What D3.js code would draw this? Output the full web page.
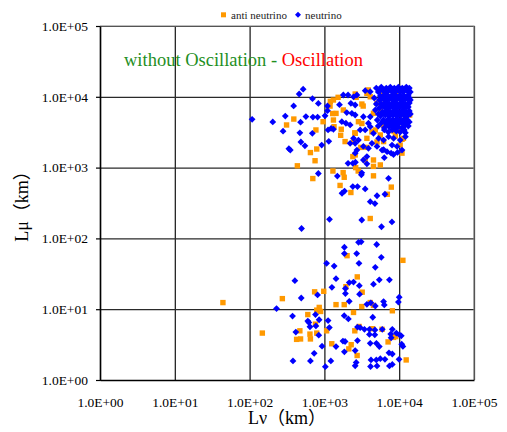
<!DOCTYPE html>
<html>
<head>
<meta charset="utf-8">
<script src="https://cdn.jsdelivr.net/npm/d3@7"></script>
<style>
  body { margin: 0; background: #fff; }
  text { font-family: "Liberation Serif", "Noto Sans CJK JP", serif; }
</style>
</head>
<body>
<svg id="chart"></svg>
<script>
// decade ticks on both axes
const tickValues = [1, 10, 100, 1000, 10000, 100000];
const tickLabels = ["1.0E+00", "1.0E+01", "1.0E+02", "1.0E+03", "1.0E+04", "1.0E+05"];

// [Lv km, Lmu km]
const antiNeutrino = [
  [390, 4850], [312, 4000], [770, 3400], [960, 4450], [790, 1830], [650, 1630], [750, 1250], [435, 1060],
  [700, 700], [1300, 895], [1780, 850], [1840, 730], [1620, 560], [2260, 445], [2620, 1000], [2830, 895],
  [4530, 765], [4530, 1040], [5590, 1090], [7840, 530], [6940, 420], [4100, 191], [1650, 2860], [1680, 3480],
  [1320, 4700], [1290, 5800], [1430, 5830], [1190, 7400], [1525, 9830], [2660, 9830], [3850, 12500], [2550, 3100],
  [2450, 2300], [5050, 2300], [10900, 2510], [10300, 2080], [8880, 2800], [8420, 3290], [1790, 6510], [1320, 9010],
  [2580, 10950], [3170, 7900], [3300, 7400], [2850, 4450], [3170, 4200], [2580, 3050], [1890, 2330], [3700, 2590],
  [6180, 2330], [5590, 2890], [4320, 3200], [4790, 3400], [6180, 4000], [7210, 4230], [4530, 5850], [5590, 6510],
  [6180, 5850], [5050, 8100], [6520, 9010], [8020, 9520], [10900, 5850], [12100, 4970], [9360, 4000], [10900, 3400],
  [11400, 2590], [10900, 1600], [13800, 5530], [3510, 1280], [4530, 1280], [2580, 1510], [4100, 10000], [3700, 11200],
  [8880, 11200], [6180, 11200], [7210, 12500], [3690, 1930], [3070, 1930], [2400, 1430], [1200, 8630], [1345, 3780],
  [2010, 57], [11200, 49], [2750, 28.6], [1940, 20.8], [3200, 17.4], [980, 17.9], [740, 17.6], [274, 14.1],
  [1430, 11.6], [1840, 11.6], [3160, 10.9], [4100, 12.4], [4530, 11.3], [2450, 9.0], [8100, 9.5], [853, 10.6],
  [790, 9.7], [890, 9.3], [600, 8.4], [148, 4.6], [470, 4.95], [641, 4.45], [790, 4.6], [760, 6.15],
  [425, 3.75], [480, 3.8], [650, 3.8], [1070, 4.95], [1255, 3.25], [2120, 2.75], [2280, 3.15], [2740, 2.22],
  [2550, 4.95], [2910, 5.7], [4400, 5.3], [5900, 5.2], [7100, 3.45], [8400, 4.0], [9000, 4.1], [12400, 1.92],
  [44, 12.4]
];

const neutrino = [
  // scattered, upper group
  [520, 12800], [460, 10950], [693, 9400], [830, 8050], [108, 4800], [204, 4420], [300, 5350], [388, 7440],
  [566, 5260], [703, 5180], [811, 5180], [480, 4380], [280, 3270], [470, 3100], [690, 3050], [485, 2300],
  [549, 2030], [335, 1850], [350, 1770], [920, 2080], [1145, 2350], [830, 825], [495, 138], [1170, 186],
  [1490, 760], [1720, 434], [1860, 466], [2400, 540], [2770, 540], [3510, 500], [4100, 330], [4740, 310],
  [5050, 400], [6450, 420], [7200, 705], [3160, 182], [5800, 146], [8000, 171], [3160, 845], [3120, 790],
  [2070, 1150], [2400, 1150], [2600, 1190], [3700, 1130], [6180, 1800], [6320, 1380], [7800, 1600], [8400, 1530],
  [9500, 1640], [12100, 3100], [1590, 7740], [1790, 10600], [2070, 10600], [2450, 10000], [2720, 10600], [3510, 12200],
  [4100, 11800], [2260, 8100], [2580, 7660], [1990, 5990], [2330, 5850], [2580, 5530], [1710, 4450], [1940, 4230],
  [2210, 4000], [3320, 5230], [4100, 5230], [3880, 4230], [3010, 3400], [3510, 3400], [4100, 3780], [4530, 3050],
  [2450, 2590], [2850, 2450], [2580, 2200], [2210, 2200], [2720, 1770], [2580, 1600], [3320, 1990], [3880, 1870],
  [4320, 2200], [5050, 1990], [5900, 1770], [6880, 1680], [8020, 2080], [9360, 1990], [10900, 1770], [5300, 2590],
  [6180, 2450], [7210, 2730], [8420, 2590], [10300, 2450], [12100, 2730], [3320, 1280], [3700, 1430], [1020, 5400],
  [1100, 6360], [1100, 7420], [1120, 3400], [1230, 3580], [1320, 3480],
  // dense cluster near 1E+04 / 1E+04
  [4940, 13300], [5760, 13700], [6720, 13300], [7610, 13700], [8610, 13300], [9740, 13700], [11000, 13300], [12450, 13700], [13660, 13300],
  [5590, 12500], [6320, 12500], [7150, 12500], [8090, 12500], [9160, 12500], [10300, 12500], [11700, 12500], [13240, 12500],
  [5250, 11700], [6130, 12100], [6930, 11700], [7850, 12100], [8880, 11700], [10050, 12100], [11340, 11700], [12840, 12100], [14100, 11700],
  [5590, 10300], [6320, 10600], [7150, 10300], [8090, 10600], [9160, 10300], [10300, 10600], [11700, 10300], [13240, 10600],
  [4640, 9620], [5760, 9620], [6520, 9620], [7380, 9620], [8350, 9620], [9440, 9620], [10660, 9620], [12070, 9620], [13660, 9620],
  [5420, 9010], [6130, 9310], [6930, 9010], [7850, 9310], [8880, 9010], [10050, 9310], [11340, 9010], [12840, 9310], [14100, 9010],
  [4940, 7910], [5760, 7910], [6520, 8170], [7380, 7910], [8350, 8170], [9440, 7910], [10660, 8170], [12070, 7910], [13660, 8170],
  [6130, 7420], [6930, 7420], [7850, 7420], [8880, 7420], [10050, 7420], [11340, 7420], [12840, 7420],
  [5420, 6950], [6320, 7180], [7150, 6950], [8090, 7180], [9160, 6950], [10300, 7180], [11700, 6950], [13240, 7180],
  [4790, 6510], [5940, 6100], [6720, 6300], [7610, 6100], [8610, 6300], [9740, 6100], [11000, 6300], [12450, 6100], [13660, 6300],
  [5250, 5720], [6320, 5720], [7150, 5720], [8090, 5720], [9160, 5720], [10300, 5720], [11700, 5720], [14100, 5720],
  [5590, 5360], [6520, 5530], [7380, 5360], [8350, 5530], [9440, 5360], [10660, 5530], [12070, 5360], [13240, 5530],
  [5090, 4700], [6130, 4700], [7150, 4850], [8090, 4700], [9160, 4850], [10300, 4700], [11700, 4850], [12840, 4700],
  [6520, 4410], [7380, 4410], [8350, 4410], [9440, 4410], [10660, 4410], [12070, 4410], [13660, 4410],
  [5760, 4270], [6720, 4130], [7850, 4270], [8880, 4130], [10050, 4270], [11340, 4130], [12450, 4270],
  [5250, 3870], [8090, 3870], [9160, 3870], [11700, 3870], [13240, 3870],
  [6320, 3630], [7380, 3750], [8610, 3630], [9740, 3750], [11000, 3630],
  [6320, 3400], [8090, 3400], [11700, 3400],
  [7150, 3180], [9160, 3290], [10300, 3180],
  // lower group
  [1850, 75], [2860, 88], [3100, 89.5], [5000, 82], [1850, 61], [2700, 61], [5760, 54], [2900, 44.5],
  [1070, 44.5], [1350, 40.6], [4790, 39], [403, 25.3], [1430, 27], [2150, 23.8], [2450, 24.2], [2930, 21.5],
  [4530, 22.6], [5420, 26], [7400, 26], [1260, 20.4], [1910, 19.6], [1910, 16.6], [2950, 16.3], [810, 15.9],
  [490, 14.4], [2150, 12.9], [3700, 11.7], [4180, 12.3], [4790, 11.1], [6180, 12.8], [6320, 11.5], [10000, 14.8],
  [9750, 12.6], [229, 10.2], [375, 8.0], [600, 6.8], [620, 6.5], [850, 7.1], [770, 5.8], [641, 5.65],
  [415, 4.75], [1120, 6.9], [1165, 5.5], [840, 4.3], [1840, 8.1], [2090, 7.3], [4430, 7.7], [2770, 5.6],
  [3010, 5.5], [3430, 5.2], [4000, 5.2], [4740, 5.1], [5940, 5.2], [8090, 5.2], [9160, 4.6], [10100, 4.35],
  [10660, 4.2], [7700, 4.45], [7800, 3.95], [4000, 4.4], [4720, 4.35], [2770, 3.6], [1770, 3.55], [1890, 3.5],
  [4100, 3.3], [4960, 3.3], [5420, 2.97], [10800, 3.2], [11200, 2.98], [930, 3.0], [1430, 2.97], [1850, 2.5],
  [2580, 2.6], [730, 2.38], [7300, 2.42], [8090, 2.33], [380, 1.86], [650, 1.86], [1220, 1.86], [4200, 1.92],
  [4940, 1.92], [5590, 2.0], [6450, 1.96], [2660, 1.77], [2580, 1.59], [4140, 1.55], [5050, 1.58], [7400, 1.58],
  [8090, 1.66], [9950, 1.96], [1030, 1.54], [760, 8.4]
];

const width = 507;
const height = 432;
const plot = { left: 100, right: 474, top: 26, bottom: 380 };

const svg = d3.select("#chart")
    .attr("width", width)
    .attr("height", height);

const x = d3.scaleLog().domain([1, 1e5]).range([plot.left, plot.right]);
const y = d3.scaleLog().domain([1, 1e5]).range([plot.bottom, plot.top]);

// grid lines
const gridX = svg.append("g")
    .attr("transform", `translate(0,${plot.bottom})`)
    .call(d3.axisBottom(x).tickValues(tickValues).tickSize(-(plot.bottom - plot.top)).tickFormat(""));
gridX.select(".domain").remove();
gridX.selectAll("line").attr("stroke", "#111").attr("stroke-width", 1.2);

const gridY = svg.append("g")
    .attr("transform", `translate(${plot.left},0)`)
    .call(d3.axisLeft(y).tickValues(tickValues).tickSize(-(plot.right - plot.left)).tickFormat(""));
gridY.select(".domain").remove();
gridY.selectAll("line").attr("stroke", "#2a2a2a").attr("stroke-width", 1.2);

// top / right frame is gray
svg.append("path")
    .attr("d", `M${plot.left},${plot.top}H${plot.right}V${plot.bottom}`)
    .attr("fill", "none")
    .attr("stroke", "#808080")
    .attr("stroke-width", 1.2);

// axes with labels
const xAxis = svg.append("g")
    .attr("transform", `translate(0,${plot.bottom})`)
    .call(d3.axisBottom(x).tickValues(tickValues).tickSize(0).tickPadding(17)
        .tickFormat((d, i) => tickLabels[i]));
xAxis.select(".domain").attr("stroke", "#000").attr("stroke-width", 1.5);
xAxis.selectAll("text").attr("font-size", "13.5px").attr("fill", "#000")
    .style("font-family", "'Liberation Serif', serif");

const yAxis = svg.append("g")
    .attr("transform", `translate(${plot.left},0)`)
    .call(d3.axisLeft(y).tickValues(tickValues).tickSize(4).tickSizeOuter(0).tickPadding(8)
        .tickFormat((d, i) => tickLabels[i]));
yAxis.select(".domain").attr("stroke", "#000").attr("stroke-width", 1.5);
yAxis.selectAll("line").attr("stroke", "#000").attr("stroke-width", 1.2);
yAxis.selectAll("text").attr("font-size", "13.5px").attr("fill", "#000")
    .style("font-family", "'Liberation Serif', serif");

// points
const orange = "#ff9900";
const blue = "#0000ff";
const diamond = "M0,-3.4L3.4,0L0,3.4L-3.4,0Z";

svg.append("g").selectAll("rect")
    .data(antiNeutrino)
    .join("rect")
    .attr("x", d => x(d[0]) - 2.7)
    .attr("y", d => y(d[1]) - 2.7)
    .attr("width", 5.4)
    .attr("height", 5.4)
    .attr("fill", orange);

svg.append("g").selectAll("path")
    .data(neutrino)
    .join("path")
    .attr("transform", d => `translate(${x(d[0])},${y(d[1])})`)
    .attr("d", diamond)
    .attr("fill", blue);

// legend
const legend = svg.append("g").attr("font-size", "11px").attr("fill", "#222");
legend.append("rect").attr("x", 221).attr("y", 12.3).attr("width", 5).attr("height", 5).attr("fill", orange);
legend.append("text").attr("x", 231).attr("y", 19).text("anti neutrino");
legend.append("path").attr("transform", "translate(298,14.8)").attr("d", "M0,-3L3,0L0,3L-3,0Z").attr("fill", blue);
legend.append("text").attr("x", 305).attr("y", 19).text("neutrino");

// title inside plot
const title = svg.append("text")
    .attr("x", 124)
    .attr("y", 66)
    .attr("font-size", "18.5px");
title.append("tspan").attr("fill", "#1f8f1f").text("without Oscillation - ");
title.append("tspan").attr("fill", "#ff0000").text("Oscillation");

// axis titles
svg.append("text")
    .attr("x", 287)
    .attr("y", 424)
    .attr("text-anchor", "middle")
    .attr("font-size", "18px")
    .text("Lν（km）");

svg.append("text")
    .attr("transform", "translate(28,202) rotate(-90)")
    .attr("text-anchor", "middle")
    .attr("font-size", "18px")
    .text("Lμ（km）");
</script>
</body>
</html>
